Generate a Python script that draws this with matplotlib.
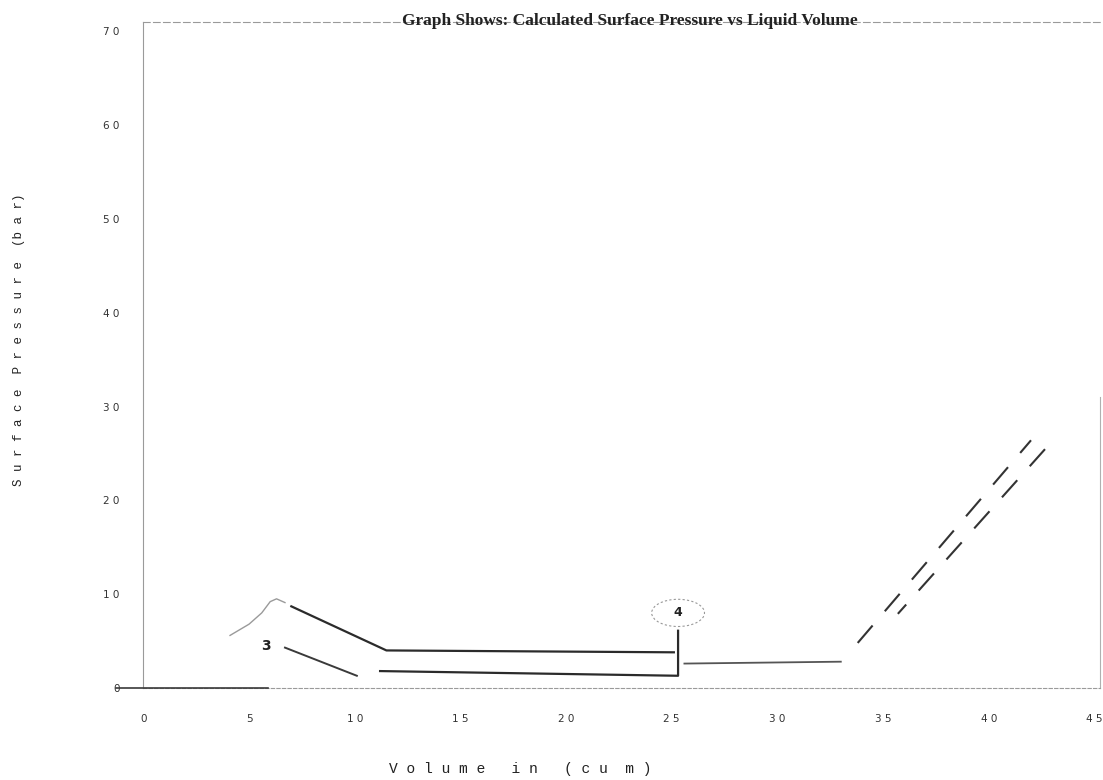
import matplotlib
matplotlib.use("Agg")
import matplotlib.pyplot as plt
from matplotlib.patches import Ellipse

# ---- data ----
x_ticks = [0, 5, 10, 15, 20, 25, 30, 35, 40, 45]
x_tick_labels = ["0", "5", "1 0", "1 5", "2 0", "2 5", "3 0", "3 5", "4 0", "4 5"]
y_ticks = [0, 10, 20, 30, 40, 50, 60, 70]
y_tick_labels = ["0", "1 0", "2 0", "3 0", "4 0", "5 0", "6 0", "7 0"]

base_x = [-1.3, 5.9]
base_y = [0.0, 0.0]

rise_x = [4.1, 5.0, 5.6, 6.0, 6.3, 6.7]
rise_y = [5.6, 6.8, 8.0, 9.2, 9.5, 9.1]

upper_x = [7.0, 11.5, 25.1]
upper_y = [8.7, 4.0, 3.8]

lower1_x = [6.7, 10.1]
lower1_y = [4.3, 1.3]

lower2_x = [11.2, 25.3, 25.3]
lower2_y = [1.8, 1.3, 6.1]

right_x = [25.6, 33.0]
right_y = [2.6, 2.8]

dashA_x = [33.8, 42.0]
dashA_y = [4.8, 26.4]
dashB_x = [35.7, 42.8]
dashB_y = [7.9, 25.8]

label3 = (5.8, 4.5, "3")
label4 = (25.3, 8.0, "4")

# ---- figure ----
fig = plt.figure(figsize=(11.03, 7.8), dpi=100)
ax = fig.add_axes([0.130, 0.118, 0.867, 0.854])
ax.set_xlim(0, 45.25)
ax.set_ylim(0, 71)

ax.plot(base_x, base_y, color="#3a3a3a", lw=1.2, clip_on=False, zorder=3)
ax.plot(rise_x, rise_y, color="#9a9a9a", lw=1.0)
ax.plot(upper_x, upper_y, color="#2b2b2b", lw=1.6)
ax.plot(lower1_x, lower1_y, color="#3a3a3a", lw=1.4)
ax.plot(lower2_x, lower2_y, color="#2b2b2b", lw=1.6)
ax.plot(right_x, right_y, color="#555555", lw=1.3)
ax.plot(dashA_x, dashA_y, color="#333333", lw=1.5, linestyle=(0, (11, 9)))
ax.plot(dashB_x, dashB_y, color="#333333", lw=1.5, linestyle=(5, (11, 9)))

ax.text(label3[0], label3[1], label3[2], fontsize=10, fontweight="bold",
        ha="center", va="center", color="#222222", family="DejaVu Sans")
ax.text(label4[0], label4[1], label4[2], fontsize=9, fontweight="bold",
        ha="center", va="center", color="#222222", family="DejaVu Sans")
ax.add_patch(Ellipse((label4[0], label4[1]), 2.5, 2.9, fill=False,
                     ls=(0, (2, 2)), lw=0.8, color="#999999"))

ax.set_xticks(x_ticks)
ax.set_xticklabels(x_tick_labels)
ax.set_yticks(y_ticks)
ax.set_yticklabels(y_tick_labels)
ax.tick_params(length=0, labelsize=7.5, colors="#333333")
ax.tick_params(axis="x", pad=19)
ax.tick_params(axis="y", pad=17)

for s in ["left", "bottom", "top", "right"]:
    ax.spines[s].set_color("#9a9a9a")
    ax.spines[s].set_linewidth(0.8)
ax.spines["bottom"].set_linestyle((0, (3, 2)))
ax.spines["top"].set_linestyle((0, (6, 3)))
ax.spines["right"].set_bounds(0, 31)
ax.spines["right"].set_color("#b0b0b0")

fig.text(630 / 1103, 1 - 21 / 780,
         "Graph Shows: Calculated Surface Pressure vs Liquid Volume",
         fontsize=12.5, fontweight="bold", family="Liberation Serif",
         ha="center", va="center", color="#222222")
ax.set_xlabel("V o l u m e   i n   ( c u  m )", family="Liberation Mono",
              fontsize=10.5, color="#222222")
ax.xaxis.set_label_coords((520 - 143) / 957, -(762 - 688) / 666)
ax.set_ylabel("S u r f a c e  P r e s s u r e  (b a r)", family="Liberation Mono",
              fontsize=9, color="#222222")
ax.yaxis.set_label_coords(-(143 - 25) / 957, (688 - 340) / 666)

fig.savefig("out.png", dpi=100, facecolor="white")
